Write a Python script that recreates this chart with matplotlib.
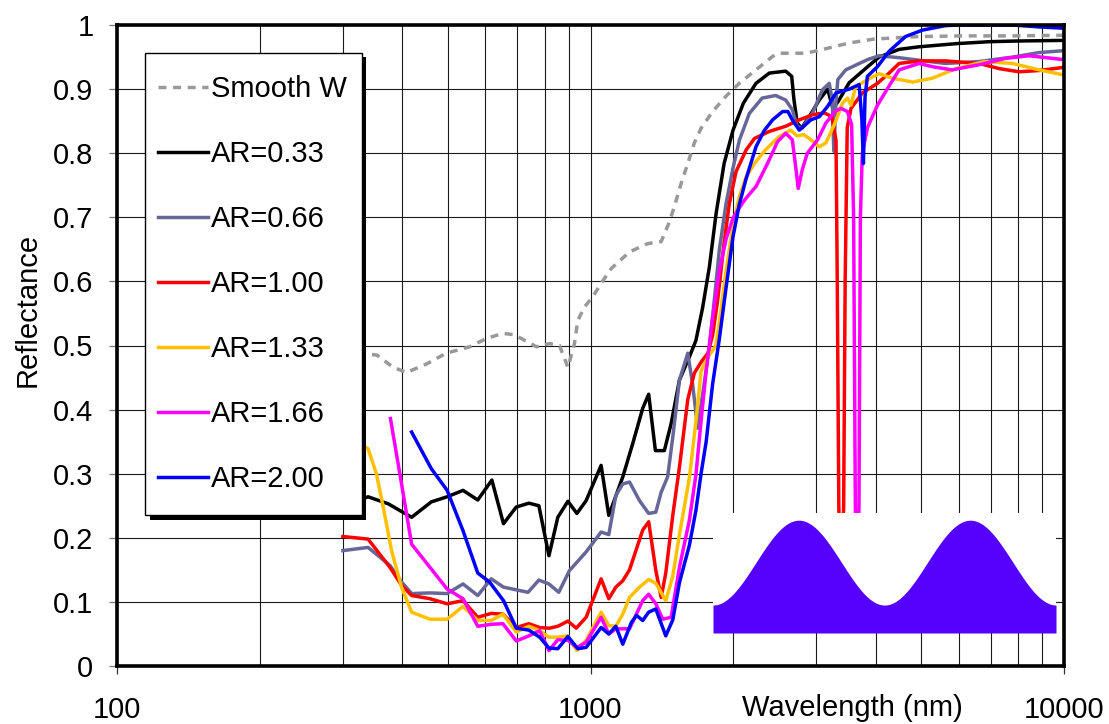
import numpy as np
import matplotlib
matplotlib.use("Agg")
import matplotlib.pyplot as plt
from matplotlib.patches import Rectangle
from matplotlib.ticker import FixedLocator, FixedFormatter, LogLocator, NullFormatter

plt.rcParams['font.family'] = ['Liberation Sans', 'DejaVu Sans']

# ---- spectra: wavelength (nm) / reflectance ----
wl_smooth = [300, 335, 354, 383, 409, 450, 496, 556, 603, 653, 686, 714, 769, 819, 860, 896,
             925, 940, 971, 1011, 1053, 1106, 1209, 1321, 1410, 1468, 1504, 1554, 1605, 1657,
             1712, 1811, 1933, 2062, 2236, 2424, 2504, 2852, 3141, 3519, 3965, 4942, 6088,
             7800, 10000]
r_smooth = [0.49, 0.487, 0.485, 0.466, 0.458, 0.471, 0.488, 0.498, 0.511, 0.519, 0.517, 0.511,
            0.498, 0.503, 0.500, 0.466, 0.503, 0.539, 0.560, 0.576, 0.597, 0.620, 0.646, 0.659,
            0.662, 0.693, 0.717, 0.753, 0.784, 0.816, 0.839, 0.865, 0.889, 0.909, 0.930, 0.951,
            0.956, 0.956, 0.963, 0.972, 0.978, 0.982, 0.983, 0.983, 0.984]

wl_033 = [300, 339, 374, 419, 461, 498, 538, 578, 619, 655, 697, 741, 778, 817, 853, 896, 936,
          979, 1053, 1093, 1170, 1228, 1289, 1327, 1371, 1432, 1480, 1541, 1617, 1670, 1726,
          1783, 1842, 1915, 2000, 2103, 2236, 2386, 2583, 2660, 2690, 2733, 2790, 2897, 3042,
          3168, 3250, 3330, 3519, 3850, 4070, 4485, 4942, 5945, 6975, 7930, 10000]
r_033 = [0.250, 0.264, 0.253, 0.232, 0.256, 0.264, 0.274, 0.259, 0.290, 0.222, 0.248, 0.254,
         0.250, 0.172, 0.232, 0.257, 0.238, 0.258, 0.313, 0.235, 0.295, 0.347, 0.402, 0.424,
         0.336, 0.336, 0.378, 0.446, 0.482, 0.508, 0.560, 0.623, 0.706, 0.784, 0.836, 0.878,
         0.909, 0.925, 0.928, 0.920, 0.883, 0.847, 0.839, 0.857, 0.883, 0.900, 0.870, 0.880,
         0.910, 0.935, 0.950, 0.962, 0.966, 0.971, 0.974, 0.975, 0.976]

wl_066 = [300, 339, 377, 399, 419, 458, 498, 538, 578, 617, 655, 738, 778, 817, 857, 903, 979,
          1053, 1093, 1131, 1170, 1209, 1269, 1327, 1374, 1410, 1455, 1492, 1541, 1605, 1644,
          1684, 1740, 1783, 1826, 1871, 1933, 2000, 2062, 2165, 2304, 2460, 2583, 2668, 2733,
          2800, 2945, 3090, 3193, 3240, 3265, 3300, 3330, 3460, 3846, 4070, 4485, 4942, 5617,
          6617, 7800, 8857, 10000]
r_066 = [0.180, 0.185, 0.157, 0.131, 0.113, 0.114, 0.113, 0.128, 0.110, 0.136, 0.123, 0.115,
         0.134, 0.128, 0.115, 0.149, 0.178, 0.209, 0.205, 0.266, 0.284, 0.287, 0.258, 0.238,
         0.240, 0.271, 0.295, 0.357, 0.446, 0.488, 0.438, 0.371, 0.443, 0.499, 0.571, 0.649,
         0.721, 0.777, 0.820, 0.862, 0.886, 0.890, 0.883, 0.868, 0.842, 0.839, 0.863, 0.899,
         0.909, 0.883, 0.803, 0.883, 0.915, 0.930, 0.946, 0.952, 0.949, 0.945, 0.940, 0.943,
         0.950, 0.957, 0.960]

wl_100 = [300, 339, 377, 399, 419, 458, 498, 538, 578, 617, 653, 697, 741, 781, 819, 853, 896,
          933, 979, 1053, 1093, 1131, 1170, 1209, 1289, 1327, 1374, 1410, 1442, 1492, 1541,
          1605, 1657, 1712, 1770, 1811, 1856, 1915, 1964, 2029, 2131, 2220, 2386, 2583, 2760,
          2945, 3117, 3233, 3300, 3320, 3345, 3385, 3425, 3450, 3485, 3550, 3751, 4037, 4273,
          4485, 4942, 5617, 6617, 7293, 8037, 8857, 10000]
r_100 = [0.202, 0.198, 0.154, 0.126, 0.110, 0.105, 0.097, 0.102, 0.076, 0.082, 0.081, 0.060,
         0.066, 0.060, 0.059, 0.062, 0.070, 0.059, 0.076, 0.136, 0.105, 0.123, 0.133, 0.150,
         0.212, 0.225, 0.149, 0.107, 0.145, 0.235, 0.310, 0.416, 0.457, 0.474, 0.488, 0.516,
         0.571, 0.660, 0.721, 0.771, 0.805, 0.823, 0.834, 0.842, 0.852, 0.860, 0.863, 0.857,
         0.820, 0.600, 0.250, 0.100, 0.250, 0.600, 0.840, 0.870, 0.894, 0.909, 0.925, 0.940,
         0.944, 0.944, 0.940, 0.932, 0.927, 0.929, 0.934]

wl_133 = [300, 339, 353, 365, 380, 399, 419, 458, 498, 538, 578, 617, 653, 697, 741, 781, 817,
          853, 896, 936, 979, 1053, 1093, 1131, 1170, 1209, 1269, 1327, 1374, 1442, 1492, 1541,
          1617, 1670, 1712, 1770, 1838, 1882, 1933, 2000, 2062, 2131, 2220, 2340, 2504, 2645,
          2733, 2820, 2920, 3042, 3141, 3283, 3406, 3488, 3550, 3630, 3965, 4070, 4340, 4790,
          5270, 5920, 6800, 7790, 8857, 10000]
r_133 = [0.360, 0.339, 0.300, 0.248, 0.180, 0.123, 0.084, 0.073, 0.073, 0.093, 0.071, 0.071,
         0.081, 0.053, 0.062, 0.055, 0.045, 0.045, 0.047, 0.024, 0.040, 0.084, 0.063, 0.062,
         0.081, 0.107, 0.123, 0.135, 0.129, 0.102, 0.140, 0.205, 0.293, 0.382, 0.460, 0.482,
         0.499, 0.549, 0.616, 0.688, 0.732, 0.763, 0.784, 0.805, 0.826, 0.836, 0.827, 0.829,
         0.821, 0.810, 0.816, 0.847, 0.878, 0.886, 0.875, 0.904, 0.920, 0.924, 0.917, 0.911,
         0.917, 0.932, 0.943, 0.940, 0.930, 0.922]

wl_166 = [378, 399, 419, 458, 498, 538, 578, 617, 653, 697, 741, 781, 817, 853, 896, 936, 979,
          1053, 1093, 1131, 1170, 1209, 1289, 1327, 1374, 1421, 1480, 1541, 1617, 1670, 1712,
          1755, 1811, 1871, 1933, 2000, 2062, 2131, 2236, 2365, 2484, 2583, 2668, 2712, 2746,
          2800, 2870, 3018, 3141, 3283, 3380, 3488, 3560, 3595, 3625, 3655, 3690, 3715, 3750,
          3846, 4037, 4273, 4485, 4942, 5270, 5800, 6617, 7530, 8440, 10000]
r_166 = [0.386, 0.284, 0.190, 0.154, 0.120, 0.105, 0.062, 0.065, 0.066, 0.039, 0.047, 0.055,
         0.024, 0.041, 0.040, 0.029, 0.037, 0.076, 0.050, 0.058, 0.058, 0.058, 0.102, 0.112,
         0.097, 0.073, 0.076, 0.154, 0.227, 0.299, 0.382, 0.460, 0.543, 0.616, 0.666, 0.699,
         0.715, 0.730, 0.748, 0.784, 0.818, 0.831, 0.821, 0.779, 0.745, 0.774, 0.800, 0.821,
         0.847, 0.865, 0.870, 0.865, 0.845, 0.700, 0.250, 0.100, 0.250, 0.700, 0.800, 0.840,
         0.875, 0.905, 0.930, 0.940, 0.935, 0.930, 0.938, 0.948, 0.952, 0.946]

wl_200 = [419, 461, 498, 538, 578, 612, 655, 697, 741, 781, 817, 853, 896, 940, 979, 1053, 1093,
          1131, 1170, 1220, 1251, 1289, 1327, 1374, 1442, 1492, 1541, 1617, 1670, 1712, 1755,
          1811, 1871, 1933, 2000, 2062, 2131, 2236, 2326, 2424, 2545, 2612, 2668, 2760, 2820,
          2920, 3042, 3168, 3300, 3519, 3693, 3742, 3770, 3800, 3845, 4037, 4273, 4628, 5022,
          5617, 6000, 7800, 8857, 10000]
r_200 = [0.365, 0.308, 0.274, 0.211, 0.145, 0.131, 0.102, 0.059, 0.056, 0.045, 0.028, 0.027,
         0.046, 0.027, 0.029, 0.060, 0.050, 0.062, 0.034, 0.068, 0.079, 0.071, 0.084, 0.089,
         0.047, 0.072, 0.130, 0.188, 0.243, 0.300, 0.350, 0.440, 0.510, 0.590, 0.670, 0.720,
         0.760, 0.810, 0.835, 0.852, 0.865, 0.865, 0.852, 0.836, 0.842, 0.852, 0.857, 0.873,
         0.894, 0.900, 0.907, 0.852, 0.784, 0.888, 0.920, 0.935, 0.959, 0.982, 0.992, 0.999,
         1.000, 1.000, 0.997, 0.995]

series = [
    ("Smooth W", wl_smooth, r_smooth, "#999999", (0, (2.3, 1.9))),
    ("AR=0.33", wl_033, r_033, "#000000", "-"),
    ("AR=0.66", wl_066, r_066, "#666699", "-"),
    ("AR=1.00", wl_100, r_100, "#FF0000", "-"),
    ("AR=1.33", wl_133, r_133, "#FFC000", "-"),
    ("AR=1.66", wl_166, r_166, "#FF00FF", "-"),
    ("AR=2.00", wl_200, r_200, "#0000FF", "-"),
]

x_ticks = [100, 1000, 10000]
x_tick_labels = ["100", "1000", "10000"]
y_ticks = [0, 0.1, 0.2, 0.3, 0.4, 0.5, 0.6, 0.7, 0.8, 0.9, 1.0]
y_tick_labels = ["0", "0.1", "0.2", "0.3", "0.4", "0.5", "0.6", "0.7", "0.8", "0.9", "1"]

W, H = 1109, 724
FS = 21

fig = plt.figure(figsize=(W / 100, H / 100), dpi=100)
fig.patch.set_facecolor("white")
ax = fig.add_axes([117 / W, (H - 666) / H, (1064 - 117) / W, (666 - 25) / H])
ax.set_zorder(1)

handles = []
for label, wl, r, color, ls in series:
    (ln,) = ax.plot(wl, r, color=color, lw=2.5, linestyle=ls, label=label,
                    solid_joinstyle="round", dash_capstyle="butt")
    handles.append(ln)

ax.set_xscale("log")
ax.set_xlim(100, 10000)
ax.set_ylim(0, 1)
ax.xaxis.set_major_locator(FixedLocator(x_ticks))
ax.xaxis.set_major_formatter(FixedFormatter(x_tick_labels))
ax.xaxis.set_minor_locator(LogLocator(base=10, subs=np.arange(2, 10)))
ax.xaxis.set_minor_formatter(NullFormatter())
ax.yaxis.set_major_locator(FixedLocator(y_ticks))
ax.yaxis.set_major_formatter(FixedFormatter(y_tick_labels))

ax.set_axisbelow(True)
ax.grid(which="both", axis="x", color="#1a1a1a", lw=0.8)
ax.grid(which="major", axis="y", color="#1a1a1a", lw=0.8)

for s in ax.spines.values():
    s.set_linewidth(2.6)
    s.set_color("black")

ax.tick_params(axis="x", which="major", direction="out", length=6, width=0.9,
               color="#333333", labelsize=FS, pad=15.5)
ax.tick_params(axis="x", which="minor", length=0)
ax.tick_params(axis="y", which="major", direction="out", length=6, width=0.9,
               color="#777777", labelsize=FS, pad=11)

ax.set_xlabel("Wavelength (nm)", fontsize=FS, va="center")
ax.xaxis.set_label_coords((852 - 117) / (1064 - 117), -(708 - 666) / 641)
fig.text(28 / W, 1 - 310 / H, "Reflectance", rotation=90, ha="center", va="center",
         fontsize=FS)

# legend box with a solid drop shadow
ax.add_patch(Rectangle((150 / W, (H - 520) / H), 216 / W, 463 / H, transform=fig.transFigure,
                       facecolor="black", edgecolor="none", zorder=4, clip_on=False))
ax.add_patch(Rectangle((145 / W, (H - 515) / H), 216.5 / W, 462 / H, transform=fig.transFigure,
                       facecolor="white", edgecolor="black", lw=1.0, zorder=4.5, clip_on=False))
leg = ax.legend(handles=handles, loc="center left", bbox_to_anchor=(158 / W, 1 - 284 / H),
                bbox_transform=fig.transFigure, frameon=False, fontsize=FS,
                handlelength=1.7, handletextpad=0.12, labelspacing=1.27, borderpad=0,
                borderaxespad=0)
leg.set_zorder(6)

# surface profile sketch, drawn over the plot area
ins = fig.add_axes([713 / W, (H - 633) / H, 343 / W, 120 / H])
ins.set_zorder(10)
ins.set_facecolor("white")
for s in ins.spines.values():
    s.set_visible(False)
ins.set_xticks([])
ins.set_yticks([])
t = np.linspace(0, 1, 400)
trough, peak, periods = 0.233, 0.94, 2
profile = trough + (peak - trough) * (1 - np.cos(2 * np.pi * periods * t)) / 2
ins.fill_between(t, 0, profile, color="#5500FF", lw=0)
ins.set_xlim(0, 1)
ins.set_ylim(0, 1)

fig.savefig("out.png", dpi=100)
